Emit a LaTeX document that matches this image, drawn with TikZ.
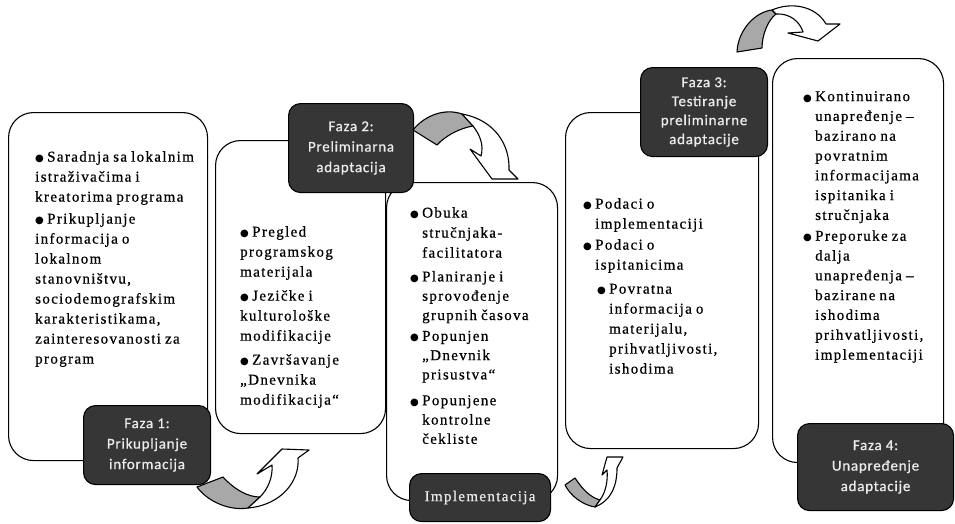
\documentclass[tikz,border=0pt]{standalone}
\usepackage{fontspec}
\setmainfont{Liberation Serif}[LetterSpace=9,WordSpace=0.8,FakeBold=0.6]
\newfontfamily\labelfont{Carlito}[LetterSpace=5,FakeBold=0.6]
\newfontfamily\symfont{DejaVu Sans}
\usepackage{tikz}

\definecolor{darkbox}{HTML}{363636}
\definecolor{darktext}{HTML}{ECECEC}
\definecolor{bandgray}{HTML}{A8A8A8}

\newcommand{\bl}{\makebox[12pt][l]{\symfont\fontsize{10}{10}\selectfont ●}}
\newcommand{\ind}{\hspace*{12pt}}

\tikzset{
  wbox/.style={draw, line width=1.1pt, rounded corners=25pt, fill=white, anchor=north west, inner sep=0pt},
  dbox/.style={draw, line width=1.1pt, rounded corners=12pt, fill=darkbox, text=darktext, anchor=north west, align=center, inner sep=0pt, font=\labelfont\fontsize{15}{20.5}\selectfont},
  btext/.style={anchor=north west, align=left, inner sep=0pt, font=\fontsize{15}{20}\selectfont},
  band/.style={draw, line width=1.1pt, fill=bandgray, line join=round},
  head/.style={draw, line width=1.1pt, fill=white, line join=round}
}

\begin{document}
\begin{tikzpicture}[x=1pt, y=-1pt]
    \useasboundingbox (0,0) rectangle (955,523);

    % Boxes
    \node[wbox, minimum width=199pt, minimum height=348pt] (b1) at (8,112) {};
    \node[wbox, minimum width=170pt, minimum height=293pt] (b2) at (215,140) {};
    \node[wbox, minimum width=171pt, minimum height=318pt] (b3) at (386,182) {};
    \node[wbox, minimum width=193pt, minimum height=336pt] (b4) at (565,112) {};
    \node[wbox, minimum width=171pt, minimum height=404pt] (b5) at (772,58) {};

    % Texts
    \node[btext] (t1) at (35,151) {\bl Saradnja sa lokalnim\\ istraživačima i\\ kreatorima programa\\[2pt]
        \bl Prikupljanje\\ informacija o\\ lokalnom\\ stanovništvu,\\ sociodemografskim\\ karakteristikama,\\ zainteresovanosti za\\ program};
    \node[btext] (t2) at (240,226) {\bl Pregled\\ programskog\\ materijala\\[4pt]
        \bl Jezičke i\\ kulturološke\\ modifikacije\\[4pt]
        \bl Završavanje\\ „Dnevnika\\ modifikacija“};
    \node[btext, font=\fontsize{15}{19.3}\selectfont] (t3) at (410,207) {\bl Obuka\\[0.7pt] \ind stručnjaka-\\[0.7pt] \ind facilitatora\\[4.5pt]
        \bl Planiranje i\\ \ind sprovođenje\\ \ind grupnih časova\\[1.5pt]
        \bl Popunjen\\ \ind „Dnevnik\\ \ind prisustva“\\[6.5pt]
        \bl Popunjene\\ \ind kontrolne\\ \ind čekliste};
    \node[btext] (t4) at (583,198) {\bl Podaci o\\ \ind implementaciji\\[1pt]
        \bl Podaci o\\ \ind ispitanicima\\[4pt]
        \hspace*{14pt}\bl Povratna\\ \hspace*{26pt}informacija o\\ \hspace*{26pt}materijalu,\\
        \hspace*{26pt}prihvatljivosti,\\ \hspace*{26pt}ishodima};
    \node[btext, font=\fontsize{15}{19.8}\selectfont] (t5) at (803,91) {\bl Kontinuirano\\ \ind unapređenje –\\ \ind bazirano na\\ \ind povratnim\\
        \ind informacijama\\ \ind ispitanika i\\ \ind stručnjaka\\[1pt]
        \bl Preporuke za\\ \ind dalja\\ \ind unapređenja –\\ \ind bazirane na\\ \ind ishodima\\
        \ind prihvatljivosti,\\ \ind implementaciji};

    % Phases
    \node[dbox, minimum width=127pt, minimum height=79pt] (f1) at (83,405) {Faza 1:\\Prikupljanje\\informacija};
    \node[dbox, minimum width=125pt, minimum height=89pt] (f2) at (288,103) {Faza 2:\\Preliminarna\\adaptacija};
    \node[dbox, minimum width=141pt, minimum height=48pt, font=\fontsize{15}{20}\selectfont] (impl) at (409,473) {Implementacija};
    \node[dbox, minimum width=127pt, minimum height=89pt, font=\labelfont\fontsize{15}{19}\selectfont] (f3) at (640,67) {Faza 3:\\Testiranje\\preliminarne\\adaptacije};
    \node[dbox, minimum width=156pt, minimum height=87pt] (f4) at (797,423) {Faza 4:\\Unapređenje\\adaptacije};

    % Arrows
    \draw[band] (197,487) -- (223,477) .. controls (235,490) and (248,497) .. (260,497) -- (248,508) .. controls (230,511) and (208,502) .. cycle;
    \draw[head] (260,497) .. controls (268,489) and (273,477) .. (272,465) -- (257,474) -- (282,449) -- (309,450) -- (298,458) .. controls (300,480) and (282,505) .. (248,508) -- cycle;

    \draw[band] (413,130) -- (437,145) .. controls (445,136) and (460,128) .. (473,126) -- (462,114) .. controls (445,108) and (425,115) .. cycle;
    \draw[head] (462,114) .. controls (495,120) and (510,145) .. (509,170) -- (518,179) -- (492,179) -- (470,149) -- (481,156) .. controls (484,145) and (480,135) .. (473,126) -- cycle;

    \draw[band] (565,485) -- (575,478) .. controls (583,490) and (590,497) .. (600,500) -- (595,507) .. controls (582,505) and (570,495) .. cycle;
    \draw[head] (600,500) .. controls (606,492) and (608,480) .. (607,470) -- (602,475) -- (607,457) -- (623,457) -- (617,468) .. controls (617,485) and (612,500) .. (595,507) -- cycle;

    \draw[band] (737,52) -- (762,48) .. controls (762,35) and (768,20) .. (776,14) -- (772,10) .. controls (755,12) and (738,30) .. cycle;
    \draw[head] (772,10) .. controls (790,2) and (815,5) .. (826,24) -- (840,24) -- (818,41) -- (788,33) -- (803,32) .. controls (800,22) and (790,13) .. (776,14) -- cycle;
\end{tikzpicture}
\end{document}
